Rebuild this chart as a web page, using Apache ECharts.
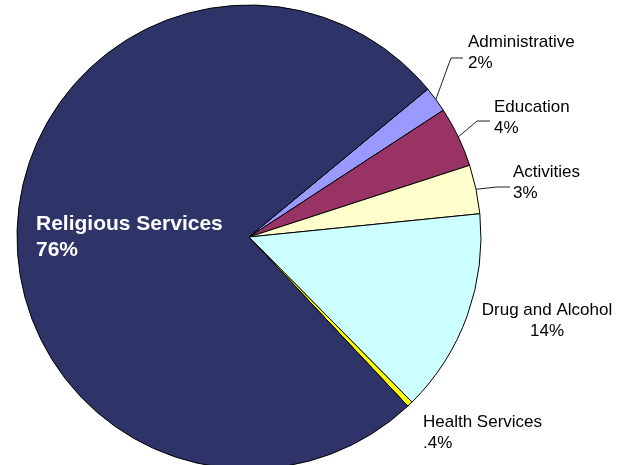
<!DOCTYPE html>
<html>
<head>
<meta charset="utf-8">
<script src="https://cdn.jsdelivr.net/npm/echarts@6/dist/echarts.min.js"></script>
<style>
html,body{margin:0;padding:0;background:#fff;}
#chart{width:618px;height:465px;}
</style>
</head>
<body>
<div id="chart"></div>
<script>
// ---- data ----
const categories = ['Administrative', 'Education', 'Activities', 'Drug and Alcohol', 'Health Services', 'Religious Services'];
const values = [1.8, 4.2, 3.4, 14.2, 0.4, 76.0];
const percentLabels = ['2%', '4%', '3%', '14%', '.4%', '76%'];

// ---- style ----
const colors = ['#9999FF', '#993366', '#FFFFCC', '#CCFFFF', '#FFFF00', '#2E3468'];
const FONT = 'Arial, "Liberation Sans", sans-serif';

// label placement (layout only)
const labelPlace = [
  {x: 468, y: 32, align: 'left', line: [[451, 58], [463, 58]]},
  {x: 494, y: 97, align: 'left', line: [[477, 121], [490, 121]]},
  {x: 513, y: 162, align: 'left', line: [[497, 187], [510, 187]]},
  {x: 547, y: 300, align: 'center', line: null},
  {x: 423, y: 412, align: 'left', line: null},
  {x: 36, y: 211, align: 'left', line: null}
];

const data = categories.map((name, i) => {
  const isMain = i === 5;
  return {
    name: name,
    value: values[i],
    itemStyle: {color: colors[i]},
    label: {
      color: isMain ? '#ffffff' : '#000000',
      fontSize: isMain ? 21 : 17,
      fontWeight: isMain ? 'bold' : 'normal',
      lineHeight: isMain ? 26 : 21,
      align: labelPlace[i].align
    },
    labelLine: {show: !!labelPlace[i].line}
  };
});

const chart = echarts.init(document.getElementById('chart'), null, {renderer: 'canvas'});
chart.setOption({
  backgroundColor: '#ffffff',
  animation: false,
  series: [{
    type: 'pie',
    center: [249, 237],
    radius: 232,
    startAngle: 39.6,
    clockwise: true,
    avoidLabelOverlap: false,
    data: data,
    itemStyle: {borderColor: '#000', borderWidth: 1},
    emphasis: {disabled: true},
    label: {
      show: true,
      position: 'outside',
      fontFamily: FONT,
      formatter: p => p.name + '\n' + percentLabels[p.dataIndex]
    },
    labelLine: {
      show: true,
      lineStyle: {color: '#222', width: 1}
    },
    labelLayout: function (params) {
      const lp = labelPlace[params.dataIndex];
      const out = {x: lp.x, y: lp.y, align: lp.align, verticalAlign: 'top'};
      if (lp.line && params.labelLinePoints) {
        const start = params.labelLinePoints[0];
        out.labelLinePoints = [[start[0], start[1]], lp.line[0], lp.line[1]];
      }
      return out;
    }
  }]
});
</script>
</body>
</html>
